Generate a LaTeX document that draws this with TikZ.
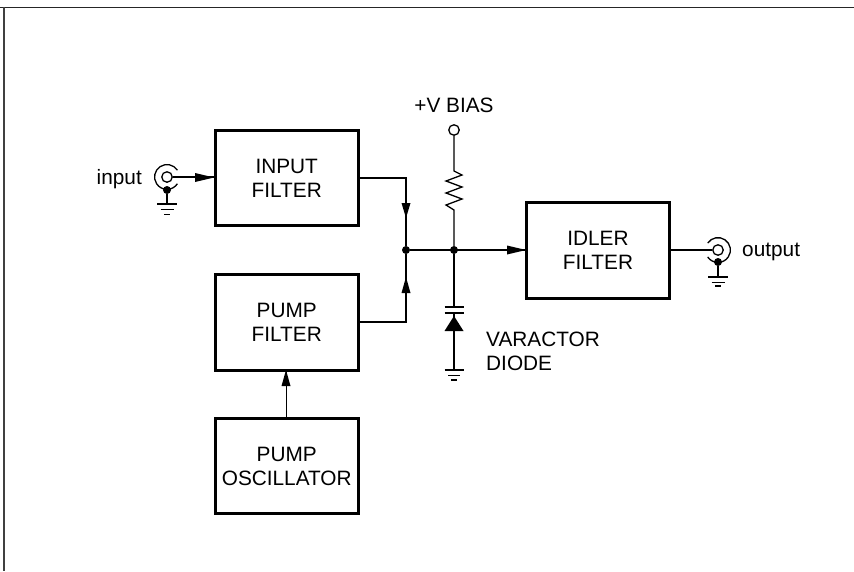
\documentclass[tikz,border=0pt]{standalone}
\usepackage{fontspec}
\setmainfont{Liberation Sans}
\begin{document}
\begin{tikzpicture}[x=1pt,y=-1pt,
  block/.style={draw=black,line width=3pt,minimum width=143.5pt,minimum height=95.5pt,inner sep=0pt,align=center,font=\fontsize{20.8}{24}\selectfont},
  wire/.style={line width=1.3pt,black},
  lbl/.style={inner sep=0pt,font=\fontsize{20.8}{24}\selectfont,align=left},
  dotn/.style={circle,fill=black,inner sep=0pt,minimum size=8pt},
  port/.style={circle,draw=black,line width=1.3pt,fill=white,inner sep=0pt,minimum size=10.5pt}]
\useasboundingbox (0,0) rectangle (854,571);
\fill[white] (0,0) rectangle (854,571);
\draw[line width=1.4pt,color=black!85] (0,7.7) -- (854,7.7);
\draw[line width=2.2pt,color=black!75] (4.3,7) -- (4.3,571);
% blocks
\node[block] (inf) at (286.75,178) {INPUT\\FILTER};
\node[block] (pf) at (286.75,322.5) {PUMP\\FILTER};
\node[block] (po) at (286.75,466) {PUMP\\OSCILLATOR};
\node[block] (idl) at (598,250.5) {IDLER\\FILTER};
% junctions and ports
\node[dotn] (j1) at (406,250) {};
\node[dotn] (j2) at (454,250) {};
\node[port] (bias) at (454,130) {};
\node[lbl] (biast) at (454,105.5) {+V BIAS};
\node[lbl,anchor=east] (int) at (142,179) {input};
\node[lbl,anchor=west] (outt) at (742,252) {output};
\node[lbl,anchor=north west] (vt) at (486,332) {VARACTOR\\DIODE};
% input connector
\node[port] (ci) at (167,177) {};
\node[dotn] (di) at (167,190) {};
\draw[wire] (177.4,170.2) arc[start angle=-33,end angle=-327,radius=12.4];
\coordinate (gi) at (167,204);
\draw[wire] (di) -- (gi);
\draw[wire] (157,204) -- (177,204) (160.5,209.5) -- (173.5,209.5);
\draw[line width=1.3pt] (164,214.5) -- (170,214.5);
% output connector
\node[port] (co) at (718,250) {};
\node[dotn] (do) at (718,262) {};
\draw[wire] (707.7,243.1) arc[start angle=-146,end angle=146,radius=12.4];
\coordinate (go) at (718,277);
\draw[wire] (do) -- (go);
\draw[wire] (708,277) -- (728,277) (711.5,282.5) -- (724.5,282.5);
\draw[line width=1.3pt] (715,286) -- (721,286);
% wires
\draw[wire] (ci) -- (inf.west |- ci);
\draw[wire] (inf.east |- 0,178) -| (j1);
\draw[wire] (pf.east |- 0,322) -| (j1);
\draw[wire] (j1) -- (idl.west |- j1);
\draw[wire] (idl.east |- co) -- (co);
\draw[wire] (po) -- (pf);
% resistor
\coordinate (rt) at (454,171);
\coordinate (rb) at (454,210);
\draw[wire] (bias) -- (rt) -- (462,175) -- (446,181) -- (462,187) -- (446,193) -- (462,199) -- (446,205) -- (rb) -- (j2);
% cap and diode
\coordinate (capa) at (454,307);
\coordinate (capb) at (454,313);
\coordinate (gd) at (454,370);
\draw[wire] (j2) -- (capa);
\draw[line width=1.5pt] (444.5,307) -- (463.5,307) (444.5,313) -- (463.5,313);
\draw[wire] (capb) -- (gd);
\fill[black] (454,316) -- (463.5,331) -- (444.5,331) -- cycle;
\draw[wire] (444.5,370) -- (463.5,370) (448,375.5) -- (460,375.5);
\draw[line width=1.3pt] (451,380) -- (457,380);
% arrowheads
\fill[black] (214,177.5) -- (195,173) -- (195,182) -- cycle;
\fill[black] (526,250) -- (507,245.5) -- (507,254.5) -- cycle;
\fill[black] (406,218) -- (401.5,203) -- (410.5,203) -- cycle;
\fill[black] (406,277) -- (401.5,293) -- (410.5,293) -- cycle;
\fill[black] (286,370) -- (281.5,386) -- (290.5,386) -- cycle;
\end{tikzpicture}
\end{document}
